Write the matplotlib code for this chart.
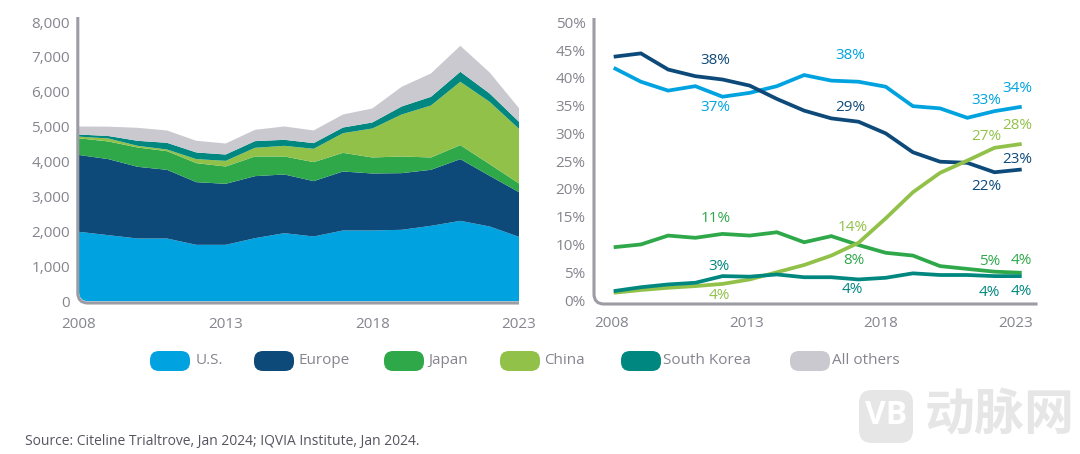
import matplotlib
matplotlib.use("Agg")
import matplotlib.pyplot as plt
from matplotlib.path import Path
from matplotlib.patches import PathPatch, FancyBboxPatch
from matplotlib.ticker import FuncFormatter

plt.rcParams['font.family'] = ['Open Sans', 'DejaVu Sans']

years = list(range(2008, 2024))
# Left panel: number of trial starts
us_n = [1994,1899,1803,1803,1622,1622,1813,1956,1861,2033,2033,2052,2166,2309,2147,1851]
europe_n = [2200,2176,2052,1966,1794,1746,1775,1680,1584,1688,1631,1622,1603,1766,1450,1279]
japan_n = [477,506,553,534,544,496,563,515,544,534,458,477,353,401,334,248]
china_n = [48,86,48,48,115,162,248,305,382,563,830,1202,1489,1813,1784,1565]
korea_n = [60,70,143,191,191,181,191,172,162,162,172,229,248,286,239,200]
others_n = [229,267,372,353,334,315,324,382,363,372,401,563,668,744,601,391]
# Right panel: share of trial starts (%)
us_s = [41.8,39.3,37.7,38.5,36.6,37.3,38.5,40.5,39.5,39.3,38.4,34.9,34.5,32.8,34.0,34.8]
europe_s = [43.8,44.4,41.5,40.3,39.7,38.6,36.2,34.1,32.7,32.1,30.0,26.6,24.9,24.7,23.0,23.5]
japan_s = [9.5,10.0,11.6,11.2,11.9,11.6,12.2,10.4,11.5,9.9,8.5,8.0,6.1,5.6,5.1,4.9]
china_s = [1.3,1.8,2.2,2.5,2.9,3.7,5.0,6.3,8.0,10.3,14.7,19.4,22.9,25.1,27.4,28.1]
korea_s = [1.6,2.3,2.8,3.1,4.3,4.2,4.6,4.1,4.1,3.7,4.0,4.8,4.5,4.5,4.3,4.3]

names = ['U.S.', 'Europe', 'Japan', 'China', 'South Korea', 'All others']
colors = ['#00a3e0', '#0d4a7a', '#2fa84a', '#92c14a', '#00877f', '#c9c9cf']
TICK = '#85858f'; AXIS = '#9c9ca4'
W, H = 1080, 454
FS = 11

# Right panel annotations: text, year, value, colour index
label_text = ['38%','37%','38%','29%','34%','33%','28%','27%','23%','22%','11%','14%','8%','5%','4%','3%','4%','4%','4%','4%']
label_year = [2011.74,2011.74,2016.71,2016.71,2022.85,2021.70,2022.85,2021.69,2022.85,2021.69,2011.74,2016.79,2016.84,2021.82,2023,2011.87,2011.87,2016.79,2021.82,2023]
label_val = [43.1,34.6,44.1,34.6,38.1,35.9,31.5,29.4,25.3,20.5,14.7,13.0,7.2,7.0,7.2,6.0,0.8,1.9,1.4,1.6]
label_col = [1,0,0,1,0,0,3,3,1,1,2,3,2,2,2,4,3,4,4,4]

fig = plt.figure(figsize=(W/100, H/100), dpi=100)

def px(x, y):
    return x/W, 1 - y/H

def make_axes(x0, x1, ytop, ybot):
    return fig.add_axes([x0/W, 1-ybot/H, (x1-x0)/W, (ybot-ytop)/H])

def l_axis(x, top, bot, right, r=10):
    verts = [px(x, top), px(x, bot-r), px(x, bot), px(x+r, bot), px(right, bot)]
    codes = [Path.MOVETO, Path.LINETO, Path.CURVE3, Path.CURVE3, Path.LINETO]
    fig.add_artist(PathPatch(Path(verts, codes), fc='none', ec=AXIS, lw=2.2,
                             transform=fig.transFigure, capstyle='butt', zorder=1))

# Left: stacked area
l_axis(77.8, 17, 303, 519)
ax = make_axes(79, 519, 22, 301.5)
ax.patch.set_alpha(0)
polys = ax.stackplot(years, us_n, europe_n, japan_n, china_n, korea_n, others_n,
                     colors=colors, lw=0)
ax.set_xlim(2008, 2023); ax.set_ylim(0, 8000)
ax.set_xticks([2008, 2013, 2018, 2023])
ax.set_yticks(range(0, 8001, 1000))
ax.yaxis.set_major_formatter(FuncFormatter(lambda v, _: f'{int(v):,}'))
r = 10
clip_v = [px(79, 0), px(79, 301.5-r), px(79, 301.5), px(79+r, 301.5), px(519, 301.5), px(519, 0), px(79, 0)]
clip_c = [Path.MOVETO, Path.LINETO, Path.CURVE3, Path.CURVE3, Path.LINETO, Path.LINETO, Path.CLOSEPOLY]
clip = PathPatch(Path(clip_v, clip_c), transform=fig.transFigure)
polys[0].set_clip_path(clip)

# Right: lines
l_axis(594, 18, 304, 1037.6)
ax2 = make_axes(594, 1037.6, 18, 304)
ax2.patch.set_alpha(0)
x_per_year = (1021.7-613.7)/15
y_per_pct = (300-22.3)/50
ax2.set_xlim(2008-(613.7-594)/x_per_year, 2023+(1037.6-1021.7)/x_per_year)
ax2.set_ylim(-(304-300)/y_per_pct, 50+(22.3-18)/y_per_pct)
for s, c in zip([us_s, europe_s, japan_s, china_s, korea_s], colors):
    ax2.plot(years, s, color=c, lw=2.7, solid_joinstyle='miter', solid_capstyle='butt')
# The reference's tick labels sit a little inside the data positions
ax2.set_xticks([2007.93, 2012.87, 2017.81, 2022.78], ['2008', '2013', '2018', '2023'])
ax2.set_yticks(range(0, 51, 5))
ax2.yaxis.set_major_formatter(FuncFormatter(lambda v, _: f'{int(v)}%'))
for t, xv, yv, ci in zip(label_text, label_year, label_val, label_col):
    ax2.text(xv, yv, t, color=colors[ci], fontsize=FS, ha='center', va='center')

for a in (ax, ax2):
    for s in a.spines.values():
        s.set_visible(False)
    a.tick_params(length=0, labelsize=FS, labelcolor=TICK)
ax.tick_params(axis='x', pad=11)
ax2.tick_params(axis='x', pad=8.5)
ax.tick_params(axis='y', pad=6.5)
ax2.tick_params(axis='y', pad=6)

# Legend
pill_x0 = [150, 254, 384, 500, 621, 790]
pill_w = 40
text_x = [196, 299, 428, 544, 663, 832]
for name, c, x0, tx in zip(names, colors, pill_x0, text_x):
    fig.add_artist(FancyBboxPatch((x0+1, H-370), pill_w-2, 18, boxstyle='round,pad=1,rounding_size=9',
                                  fc=c, ec='none', transform=None))
    fig.text(tx/W, 1-361/H, name, color=TICK, fontsize=FS, va='center', ha='left')

# Source
fig.text(25/W, 1-441/H, 'Source: Citeline Trialtrove, Jan 2024; IQVIA Institute, Jan 2024.',
         color='#55555f', fontsize=10, va='center', ha='left')

# Watermark
fig.add_artist(FancyBboxPatch((865, H-437), 42, 41, boxstyle='round,pad=6,rounding_size=13',
                              fc='#e6e6e6', ec='none', transform=None))
fig.text(886/W, 1-416/H, 'VB', color='white', fontsize=23, fontweight='bold', ha='center', va='center')
fig.text(925/W, 1-416/H, '动脉网', color='#e6e6e6', fontsize=36, ha='left', va='center',
         family=['Noto Sans CJK SC', 'DejaVu Sans'], fontweight='bold')

fig.savefig('out.png', dpi=100)
